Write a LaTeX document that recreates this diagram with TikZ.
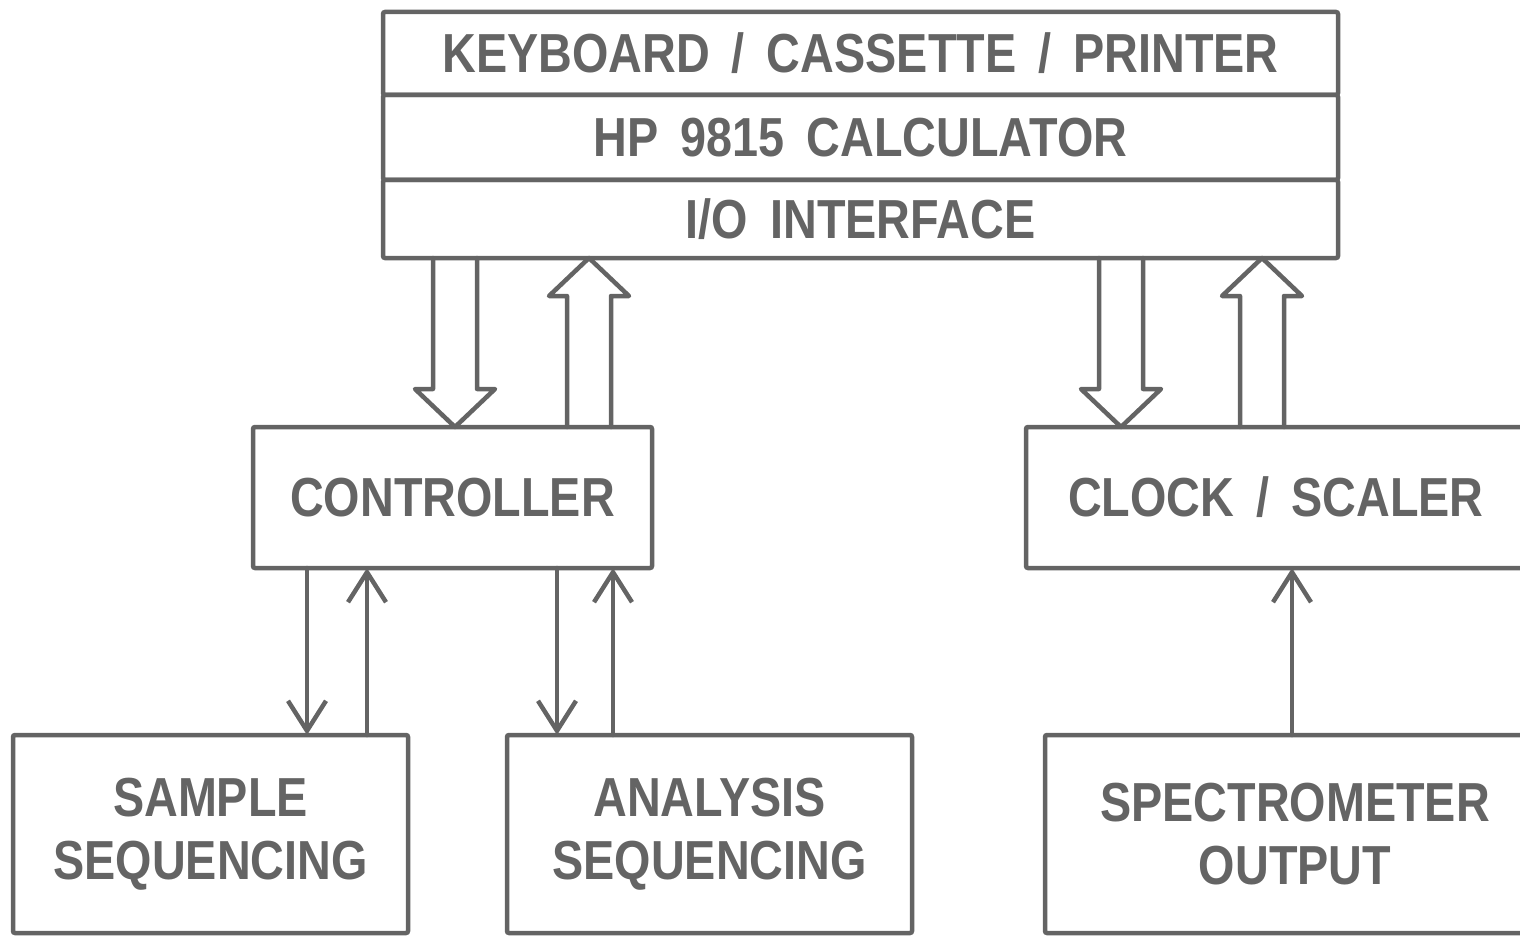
\documentclass[tikz,border=0pt]{standalone}
\usepackage{fontspec}
\newfontfamily\boxfont[FakeStretch=0.85,WordSpace=1.7]{Liberation Sans}
\usetikzlibrary{positioning,calc,arrows.meta}
\definecolor{ink}{RGB}{100,100,100}

\tikzset{every picture/.style={line width=4.5pt}}
\tikzset{
  blk/.style={draw=ink, text=ink, rounded corners=2pt, inner sep=0pt, outer sep=0pt,
    align=center, font=\boxfont\bfseries\fontsize{55}{63}\selectfont},
  band/.style={blk, minimum width=955pt, minimum height=#1},
  wire/.style={draw=ink, line cap=round, -{Straight Barb[length=30pt,width=38pt]}},
  bus/.style={draw=ink, line join=round, line cap=round}
}

% hollow wide arrow: tail anchor, tip anchor, column
\newcommand{\busarrow}[3]{%
  \path (#1 -| #3) coordinate (ft) (#2 -| #3) coordinate (fh);
  \path ($(fh)!38pt!(ft)$) coordinate (fb);
  \draw[bus] ([xshift=-22pt]ft) -- ([xshift=-22pt]fb) -- ([xshift=-40pt]fb) -- (fh)
    -- ([xshift=40pt]fb) -- ([xshift=22pt]fb) -- ([xshift=22pt]ft);
}

\begin{document}
\begin{tikzpicture}[x=1pt,y=1pt,yscale=-1,xscale=1]
    \useasboundingbox (0,0) rectangle (1520,936);

    %Calculator stack
    \node[band=83pt] (kbd) at (860.5,53.5) {KEYBOARD / CASSETTE / PRINTER};
    \node[band=85pt, below=0pt of kbd] (calc) {HP 9815 CALCULATOR};
    \node[band=78pt, below=0pt of calc] (io) {I/O INTERFACE};

    %Middle row
    \node[blk, minimum width=399pt, minimum height=141pt] (ctrl) at (452.5,497.5) {CONTROLLER};
    \node[blk, minimum width=500pt, minimum height=141pt] (clk) at (1276,497.5) {CLOCK / SCALER};

    %Bottom row
    \node[blk, minimum width=395pt, minimum height=198pt] (samp) at (210.5,834) {SAMPLE\\SEQUENCING};
    \node[blk, minimum width=405pt, minimum height=198pt] (anal) at (709.5,834) {ANALYSIS\\SEQUENCING};
    \node[blk, minimum width=500pt, minimum height=198pt] (spec) at (1295,834) {SPECTROMETER\\OUTPUT};

    %Columns
    \coordinate (ctrlin) at (455,0);
    \coordinate (ctrlout) at (589,0);
    \coordinate (clkin) at (1121,0);
    \coordinate (clkout) at (1262,0);
    \coordinate (sampdn) at (307,0);
    \coordinate (sampup) at (367,0);
    \coordinate (analdn) at (557,0);
    \coordinate (analup) at (613,0);
    \coordinate (specup) at (1292,0);

    %Wide arrows
    \busarrow{io.south}{ctrl.north}{ctrlin}
    \busarrow{ctrl.north}{io.south}{ctrlout}
    \busarrow{io.south}{clk.north}{clkin}
    \busarrow{clk.north}{io.south}{clkout}

    %Thin arrows
    \draw[wire] (ctrl.south -| sampdn) -- (samp.north -| sampdn);
    \draw[wire] (samp.north -| sampup) -- (ctrl.south -| sampup);
    \draw[wire] (ctrl.south -| analdn) -- (anal.north -| analdn);
    \draw[wire] (anal.north -| analup) -- (ctrl.south -| analup);
    \draw[wire] (spec.north -| specup) -- (clk.south -| specup);

\end{tikzpicture}
\end{document}
